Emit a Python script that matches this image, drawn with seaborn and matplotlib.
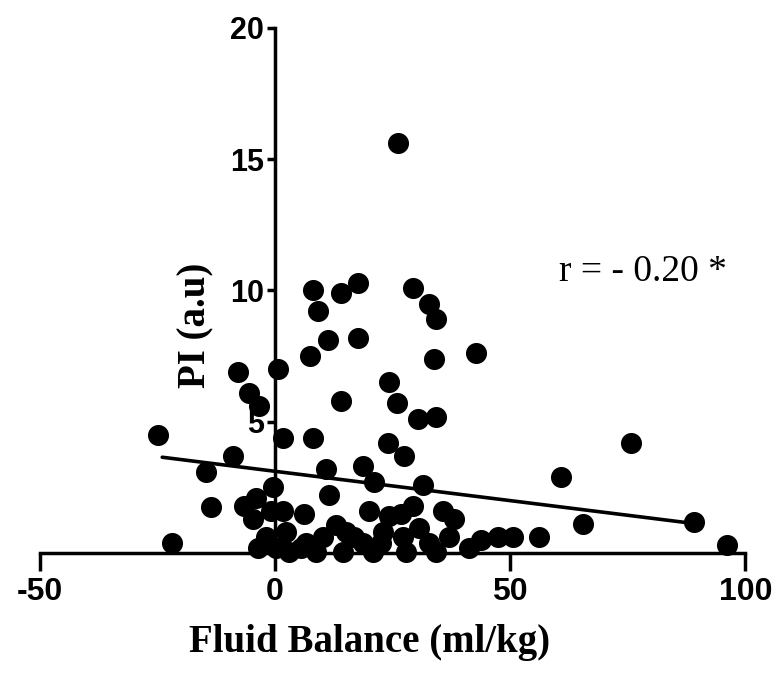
import seaborn as sns
import pandas as pd
import numpy as np
import matplotlib.pyplot as plt

# точки (баланс рідини, PI)
fluid_balance = [26.2, 8.1, 9.1, 14.0, 17.7, 29.4, 32.8, 34.3, 11.3, 7.4,
                 17.7, 33.8, 42.8, 0.6, 24.3, 14.0, -7.9, -5.6, -3.4, -25.0,
                 1.7, 8.1, 26.0, 30.4, 34.3, 24.0, 27.5, 75.7, 60.9, 65.5,
                 89.1, 96.0, -8.9, -14.7, -0.4, -13.6, -6.6, -4.7, -22.0, -3.6,
                 10.9, 18.7, 11.5, 21.0, 31.5, 29.4, 1.7, 20.0, 24.3, 35.7,
                 38.0, -1.9, 2.3, 6.6, 13.0, 15.1, 10.2, 18.7, 23.0, 27.2,
                 30.6, 32.8, 37.0, 41.3, 3.0, 8.7, 14.5, 20.9, 27.9, 34.3,
                 43.8, 47.4, 50.6, 56.2, -4.0, 6.2, 26.8, -0.9, 5.5, 16.8,
                 22.6, 0.2]
pi_values = [15.6, 10.0, 9.2, 9.9, 10.3, 10.1, 9.5, 8.9, 8.1, 7.5,
             8.2, 7.4, 7.6, 7.0, 6.5, 5.8, 6.9, 6.1, 5.6, 4.5,
             4.4, 4.4, 5.7, 5.1, 5.2, 4.2, 3.7, 4.2, 2.9, 1.1,
             1.2, 0.3, 3.7, 3.1, 2.5, 1.75, 1.8, 1.3, 0.4, 0.2,
             3.2, 3.3, 2.2, 2.7, 2.6, 1.8, 1.6, 1.6, 1.4, 1.6,
             1.3, 0.6, 0.8, 0.4, 1.06, 0.8, 0.6, 0.4, 0.8, 0.6,
             0.95, 0.4, 0.6, 0.2, 0.05, 0.05, 0.05, 0.05, 0.05, 0.05,
             0.5, 0.6, 0.6, 0.6, 2.1, 1.5, 1.5, 1.6, 0.2, 0.6,
             0.4, 0.2]

# лінія регресії (кінці)
fit_x = [-24.0, 88.0]
fit_y = [3.65, 1.15]

x_ticks = [-50, 0, 50, 100]
y_ticks = [5, 10, 15, 20]
r_text = 'r = - 0.20 *'

data = pd.DataFrame({'fluid': fluid_balance, 'pi': pi_values})

sns.set_style('ticks')
plt.rcParams['axes.unicode_minus'] = False
plt.rcParams['font.family'] = ['Liberation Sans', 'DejaVu Sans']
plt.rcParams['text.color'] = 'black'
plt.rcParams['xtick.color'] = 'black'
plt.rcParams['ytick.color'] = 'black'
plt.rcParams['axes.edgecolor'] = 'black'
plt.rcParams['axes.labelcolor'] = 'black'

fig = plt.figure(figsize=(7.76, 6.77), dpi=100)
ax = fig.add_axes([0.0515, 0.183, 0.909, 0.776])

sns.lineplot(x=fit_x, y=fit_y, color='black', linewidth=2.6, ax=ax, zorder=4)
sns.scatterplot(data=data, x='fluid', y='pi', color='black', s=230,
                edgecolor='black', linewidth=0, ax=ax, zorder=3, clip_on=False)

ax.set_xlim(-50, 100)
ax.set_ylim(0, 20)
ax.set_xticks(x_ticks)
ax.set_yticks(y_ticks)

# осі перетинаються в нулі
ax.spines['left'].set_position(('data', 0))
ax.spines['right'].set_visible(False)
ax.spines['top'].set_visible(False)
for side in ['left', 'bottom']:
    ax.spines[side].set_linewidth(2.5)
    ax.spines[side].set_zorder(2.5)

ax.tick_params(axis='x', direction='out', length=13, width=2.5, pad=4, labelsize=23)
ax.tick_params(axis='y', direction='out', length=6, width=2.5, pad=2, labelsize=22)
for lbl in ax.get_xticklabels() + ax.get_yticklabels():
    lbl.set_fontweight('bold')

ax.set_xlabel('Fluid Balance (ml/kg)', fontsize=28, fontweight='bold',
              family='Liberation Serif')
ax.set_ylabel('PI (a.u)', fontsize=28, fontweight='bold', family='Liberation Serif')
ax.xaxis.set_label_coords(0.467, -0.135)
ax.yaxis.set_label_coords(0.247, 0.433)

ax.text(60.4, 10.7, r_text, fontsize=27, family='Liberation Serif', va='center')

plt.savefig('out.png', dpi=100)
